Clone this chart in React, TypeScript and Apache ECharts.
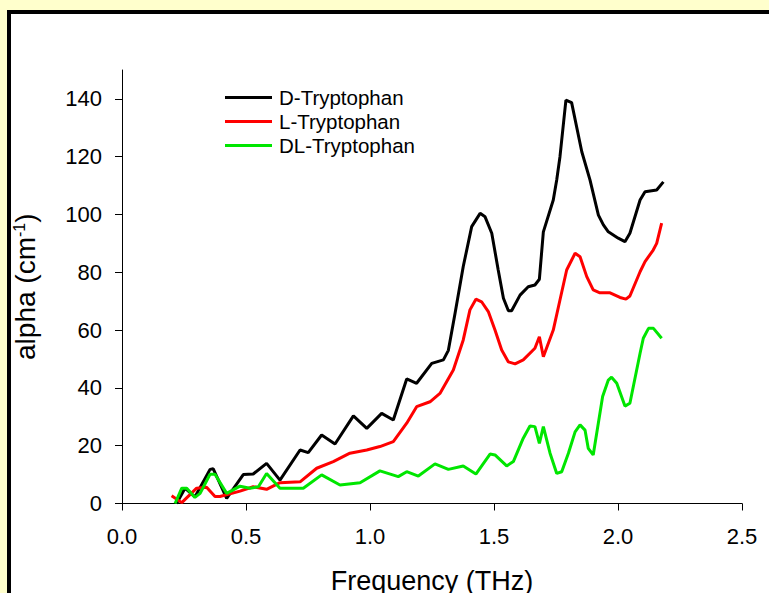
import React, { useEffect, useRef } from "react";
import * as echarts from "echarts";

const xTicks = [0, 0.5, 1.0, 1.5, 2.0, 2.5];
const yTicks = [0, 20, 40, 60, 80, 100, 120, 140];
const seriesNames = ["D-Tryptophan", "L-Tryptophan", "DL-Tryptophan"];

const dFreq = [0.22, 0.254, 0.294, 0.355, 0.368, 0.422, 0.489, 0.529, 0.583, 0.637, 0.718, 0.751, 0.805, 0.859, 0.933, 0.987, 1.047, 1.094, 1.148, 1.188, 1.249, 1.296, 1.316, 1.343, 1.376, 1.41, 1.444, 1.464, 1.491, 1.517, 1.538, 1.558, 1.571, 1.605, 1.638, 1.665, 1.683, 1.699, 1.739, 1.753, 1.766, 1.79, 1.813, 1.854, 1.887, 1.921, 1.941, 1.961, 2.001, 2.028, 2.048, 2.089, 2.109, 2.156, 2.183];
const dAlpha = [0, 5.3, 2.3, 11.8, 12, 1.8, 10, 10.2, 13.9, 8.1, 18.5, 17.6, 23.7, 20.6, 30.3, 26, 31.2, 28.9, 43.1, 41.6, 48.5, 49.7, 53, 65.8, 82, 95.8, 100.4, 99.2, 93.5, 80.8, 71, 66.7, 66.7, 72.1, 75, 75.6, 77.6, 94, 105, 112, 120, 139.6, 138.7, 121.7, 112, 99.8, 96.4, 94, 91.8, 90.6, 93.5, 105, 107.9, 108.5, 111.3];

const lFreq = [0.2, 0.241, 0.301, 0.341, 0.375, 0.395, 0.476, 0.529, 0.583, 0.637, 0.718, 0.785, 0.852, 0.919, 0.987, 1.04, 1.094, 1.148, 1.188, 1.242, 1.282, 1.336, 1.376, 1.403, 1.427, 1.45, 1.477, 1.504, 1.531, 1.558, 1.585, 1.618, 1.665, 1.683, 1.699, 1.739, 1.766, 1.793, 1.827, 1.847, 1.874, 1.9, 1.927, 1.968, 2.008, 2.032, 2.048, 2.089, 2.109, 2.142, 2.156, 2.176];
const lAlpha = [2.7, 0.3, 5.3, 5.6, 2.4, 2.4, 4.3, 5.8, 4.9, 7.2, 7.5, 12.2, 14.5, 17.4, 18.5, 19.7, 21.4, 27.8, 33.5, 35.2, 38.1, 46.2, 56.6, 67, 70.7, 69.8, 66.4, 60, 53.1, 49, 48.3, 49.7, 53.7, 57.7, 50.8, 60, 70.4, 80.8, 86.6, 85.4, 78.5, 73.9, 72.9, 72.9, 71.3, 70.7, 71.8, 80.2, 83.7, 87.7, 90, 97];

const dlFreq = [0.214, 0.241, 0.261, 0.294, 0.315, 0.355, 0.375, 0.422, 0.476, 0.516, 0.55, 0.583, 0.637, 0.691, 0.731, 0.805, 0.879, 0.96, 1.04, 1.114, 1.148, 1.195, 1.262, 1.316, 1.376, 1.427, 1.484, 1.504, 1.551, 1.578, 1.618, 1.645, 1.665, 1.683, 1.699, 1.726, 1.753, 1.773, 1.8, 1.827, 1.847, 1.867, 1.88, 1.9, 1.938, 1.961, 1.974, 1.995, 2.028, 2.048, 2.089, 2.102, 2.123, 2.143, 2.176];
const dlAlpha = [0, 5.3, 5.3, 2.1, 3.5, 10.1, 10.1, 3.5, 6, 5.3, 5.8, 10.4, 5.3, 5.3, 5.3, 9.9, 6.4, 7.2, 11.3, 9.3, 11, 9.5, 13.7, 11.8, 13, 10.2, 17.1, 16.8, 13, 14.5, 22.6, 26.8, 26.6, 20.8, 26.6, 17.4, 10.4, 11, 17.4, 24.8, 27.2, 25.4, 19.1, 16.8, 37, 42.7, 43.7, 41.6, 33.7, 34.7, 52, 57.2, 60.6, 60.6, 57.2];

const colors = ["#000000", "#ff0000", "#00e600"];
const FONT = "'Liberation Sans', Arial, sans-serif";

function pairs(xs: number[], ys: number[]) {
  return xs.map((x, i) => [x, ys[i]]);
}

export default function App() {
  const ref = useRef<HTMLDivElement>(null);
  useEffect(() => {
    if (!ref.current) return;
    const chart = echarts.init(ref.current, null, { renderer: "svg" });
    const data = [pairs(dFreq, dAlpha), pairs(lFreq, lAlpha), pairs(dlFreq, dlAlpha)];
    chart.setOption({
      animation: false,
      backgroundColor: "#ffffcc",
      graphic: [
        {
          type: "rect",
          z: -10,
          silent: true,
          shape: { x: 9, y: 12, width: 800, height: 700 },
          style: { fill: "#ffffff", stroke: "#000000", lineWidth: 4 },
        },
      ],
      grid: { left: 122, right: 27, top: 70, bottom: 89.5, containLabel: false, outerBoundsMode: "none" },
      legend: {
        orient: "vertical",
        left: 220,
        top: 82,
        icon: "rect",
        itemWidth: 47,
        itemHeight: 3,
        itemGap: 3,
        data: seriesNames,
        textStyle: { fontFamily: FONT, fontSize: 20.5, color: "#000", lineHeight: 20, padding: [0, 0, 0, 2] },
      },
      xAxis: {
        type: "value",
        min: 0,
        max: 2.5,
        interval: 0.5,
        name: "Frequency (THz)",
        nameLocation: "middle",
        nameGap: 64,
        nameTextStyle: { fontFamily: FONT, fontSize: 27, color: "#000" },
        axisLine: { lineStyle: { color: "#000", width: 1 } },
        axisTick: { show: true, length: 7, inside: false, lineStyle: { color: "#000" }, customValues: xTicks },
        axisLabel: {
          fontFamily: FONT,
          fontSize: 22,
          color: "#000",
          margin: 22,
          customValues: xTicks,
          formatter: (v: number) => v.toFixed(1),
        },
        splitLine: { show: false },
      },
      yAxis: {
        type: "value",
        min: 0,
        max: 150,
        name: "alpha (cm{sup|-1})",
        nameLocation: "middle",
        nameRotate: 90,
        nameGap: 83,
        nameTextStyle: {
          fontFamily: FONT,
          fontSize: 28,
          color: "#000",
          rich: {
            sup: { fontFamily: FONT, fontSize: 16, color: "#000", verticalAlign: "top", padding: [0, 0, 10, 0] },
          },
        },
        axisLine: { show: true, lineStyle: { color: "#000", width: 1 } },
        axisTick: { show: true, length: 7, inside: false, lineStyle: { color: "#000" }, customValues: yTicks },
        axisLabel: { fontFamily: FONT, fontSize: 22, color: "#000", margin: 20, customValues: yTicks },
        splitLine: { show: false },
      },
      series: seriesNames.map((name, i) => ({
        name,
        type: "line",
        data: data[i],
        symbol: "none",
        showSymbol: false,
        color: colors[i],
        lineStyle: { color: colors[i], width: 3 },
      })),
    });
    return () => chart.dispose();
  }, []);
  return (
    <div
      ref={ref}
      style={{ position: "absolute", left: 0, top: 0, width: 769, height: 593 }}
    />
  );
}
